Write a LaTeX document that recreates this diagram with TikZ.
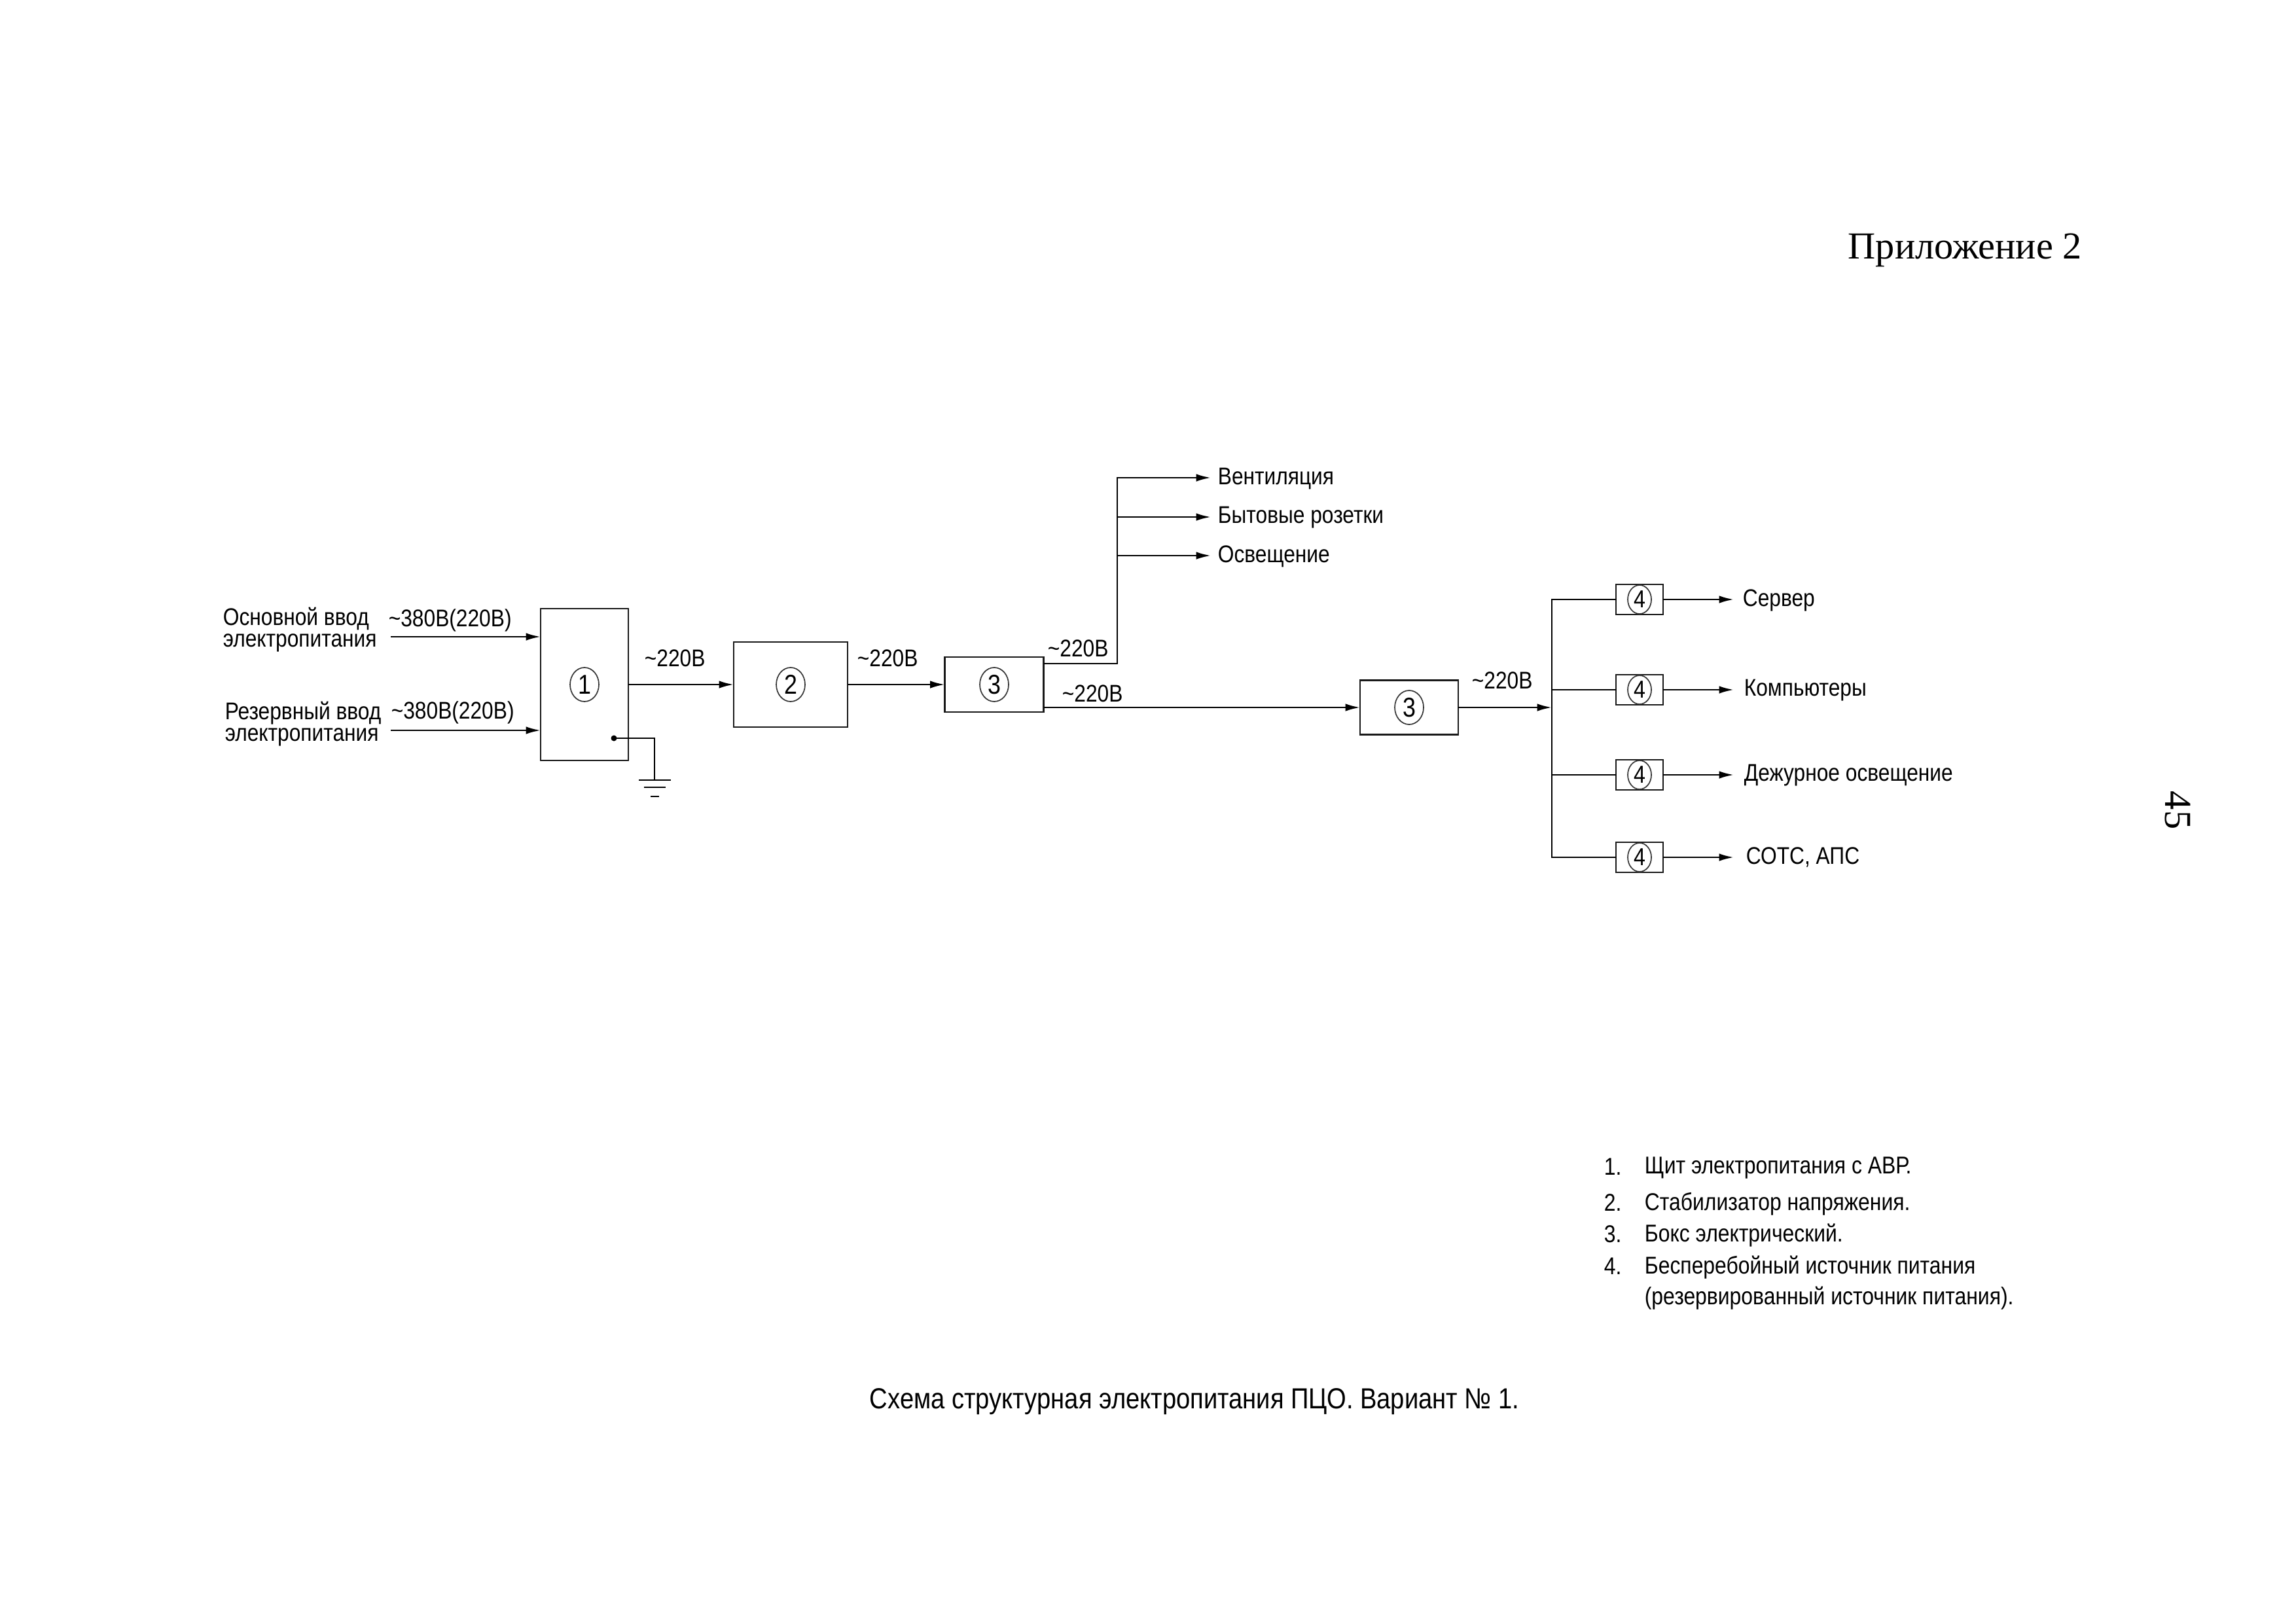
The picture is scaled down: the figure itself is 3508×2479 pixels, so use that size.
\documentclass[tikz,border=0pt]{standalone}
\usepackage{fontspec}
\setmainfont{Liberation Sans}[FakeStretch=0.86]
\newfontfamily\serifpage{Liberation Serif}
\usetikzlibrary{arrows.meta,shapes.geometric}
\def\px{0.24pt}
\tikzset{
  wire/.style={line width=0.65pt,black},
  feed/.style={wire,-{Latex[length=5.4pt,width=2.8pt]}},
  unitbox/.style={draw=black!90,line width=0.65pt,rectangle,inner sep=0pt,outer sep=0pt},
  tag/.style={draw=black!80,line width=0.4pt,ellipse,inner sep=0pt,minimum width=44*\px,minimum height=52*\px,font=\fontsize{10}{10}\selectfont},
  smalltag/.style={tag,minimum width=36*\px,minimum height=44*\px,font=\fontsize{9}{9}\selectfont},
  lbl/.style={anchor=west,inner sep=0pt,font=\fontsize{8.85}{8.85}\selectfont},
  legend/.style={anchor=west,inner sep=0pt,font=\fontsize{8.9}{8.9}\selectfont},
  pagetext/.style={inner sep=0pt,font=\serifpage\fontsize{14}{14}\selectfont},
}
\begin{document}
\begin{tikzpicture}[x=0.24pt,y=-0.24pt]
\useasboundingbox (0,0) rectangle (3508,2479);

% Page furniture
\node[pagetext,anchor=west] (app) at (2823,382) {Приложение 2};
\node[pagetext,rotate=-90] (pageno) at (3327,1238) {45};

% Units
\node[unitbox,minimum width=134*\px,minimum height=232*\px] (b1) at (893,1046) {};
\node[tag] (n1) at (b1.center) {1};
\node[unitbox,minimum width=174*\px,minimum height=130*\px] (b2) at (1208,1046) {};
\node[tag] (n2) at (b2.center) {2};
\node[unitbox,minimum width=151*\px,minimum height=84*\px] (b3) at (1519,1046) {};
\node[tag] (n3) at (b3.center) {3};
\node[unitbox,minimum width=150*\px,minimum height=83*\px] (b4) at (2153,1081) {};
\node[tag] (n4) at (b4.center) {3};
\node[unitbox,minimum width=72*\px,minimum height=46*\px] (u1) at (2505,916) {};
\node[smalltag] (m1) at (u1.center) {4};
\node[unitbox,minimum width=72*\px,minimum height=46*\px] (u2) at (2505,1054) {};
\node[smalltag] (m2) at (u2.center) {4};
\node[unitbox,minimum width=72*\px,minimum height=46*\px] (u3) at (2505,1184) {};
\node[smalltag] (m3) at (u3.center) {4};
\node[unitbox,minimum width=72*\px,minimum height=46*\px] (u4) at (2505,1310) {};
\node[smalltag] (m4) at (u4.center) {4};

% Input captions
\node[lbl,align=left,font=\fontsize{8.85}{8}\selectfont] (in1) at (340,962) {Основной ввод\\электропитания};
\node[lbl,align=left,font=\fontsize{8.85}{8}\selectfont] (in2) at (343,1106) {Резервный ввод\\электропитания};
\node[lbl] (v1) at (593,948) {\textasciitilde380В(220В)};
\node[lbl] (v2) at (597,1089) {\textasciitilde380В(220В)};

% Input feeds
\coordinate (s1) at (597,973);
\coordinate (s2) at (597,1116);
\draw[feed] (s1) -- (b1.west |- s1);
\draw[feed] (s2) -- (b1.west |- s2);

% Chain between the units
\draw[feed] (b1.east) -- (b2.west);
\draw[feed] (b2.east) -- (b3.west);
\node[lbl] (v3) at (984,1006) {\textasciitilde220В};
\node[lbl] (v4) at (1309,1006) {\textasciitilde220В};
\node[lbl] (v5) at (1600,991) {\textasciitilde220В};
\node[lbl] (v6) at (1622,1060) {\textasciitilde220В};
\node[lbl] (v7) at (2248,1040) {\textasciitilde220В};

% Earth connection
\coordinate (gnd) at (1000,1192);
\coordinate (tap) at (938,1128);
\fill (tap) circle (4.5);
\draw[wire] (tap) -- (tap -| gnd) -- (gnd);
\coordinate (g1l) at (976,1192);
\coordinate (g1r) at (1025,1192);
\coordinate (g2l) at (984,1203);
\coordinate (g2r) at (1017,1203);
\coordinate (g3l) at (994,1217);
\coordinate (g3r) at (1007,1217);
\draw[wire] (g1l) -- (g1r);
\draw[wire] (g2l) -- (g2r);
\draw[wire] (g3l) -- (g3r);

% Upper branch: household loads
\node[lbl] (t1) at (1860,731) {Вентиляция};
\node[lbl] (t2) at (1860,791) {Бытовые розетки};
\node[lbl] (t3) at (1860,850) {Освещение};
\coordinate (rise) at (1707,1014);
\coordinate (a1) at (1707,730);
\coordinate (a2) at (1707,790);
\coordinate (a3) at (1707,849);
\coordinate (e1) at (1850,730);
\coordinate (e2) at (1850,790);
\coordinate (e3) at (1850,849);
\draw[wire] (b3.east |- rise) -- (rise) -- (a3);
\draw[feed] (rise) -- (a1) -- (e1);
\draw[feed] (a2) -- (e2);
\draw[feed] (a3) -- (e3);

% Lower branch to the second box
\draw[feed] (b3.east |- b4) -- (b4.west);

% Distribution bus
\coordinate (bus) at (2371,1081);
\coordinate (bust) at (2371,916);
\coordinate (busb) at (2371,1310);
\draw[feed] (b4.east) -- (bus);
\draw[wire] (u1.west) -- (bust) -- (busb) -- (u4.west);
\draw[wire] (bust |- u2) -- (u2.west);
\draw[wire] (bust |- u3) -- (u3.west);

% Protected loads
\node[lbl] (r1) at (2662,917) {Сервер};
\node[lbl] (r2) at (2664,1055) {Компьютеры};
\node[lbl] (r3) at (2664,1185) {Дежурное освещение};
\node[lbl] (r4) at (2667,1310) {СОТС, АПС};
\coordinate (f1) at (2649,916);
\coordinate (f2) at (2649,1054);
\coordinate (f3) at (2649,1184);
\coordinate (f4) at (2649,1310);
\draw[feed] (u1.east) -- (f1);
\draw[feed] (u2.east) -- (f2);
\draw[feed] (u3.east) -- (f3);
\draw[feed] (u4.east) -- (f4);

% Key to the numbered units
\node[legend] (k1) at (2450,1783) {1.};
\node[legend] (k2) at (2450,1838) {2.};
\node[legend] (k3) at (2450,1886) {3.};
\node[legend] (k4) at (2450,1935) {4.};
\node[legend] (l1) at (2512,1785) {Щит электропитания с АВР.};
\node[legend] (l2) at (2512,1840) {Стабилизатор напряжения.};
\node[legend] (l3) at (2512,1888) {Бокс электрический.};
\node[legend] (l4) at (2512,1937) {Бесперебойный источник питания};
\node[legend] (l5) at (2512,1984) {(резервированный источник питания).};

% Caption
\node[inner sep=0pt,font=\fontsize{10.65}{10.65}\selectfont] (cap) at (1825,2142) {Схема структурная электропитания ПЦО. Вариант № 1.};
\end{tikzpicture}
\end{document}
